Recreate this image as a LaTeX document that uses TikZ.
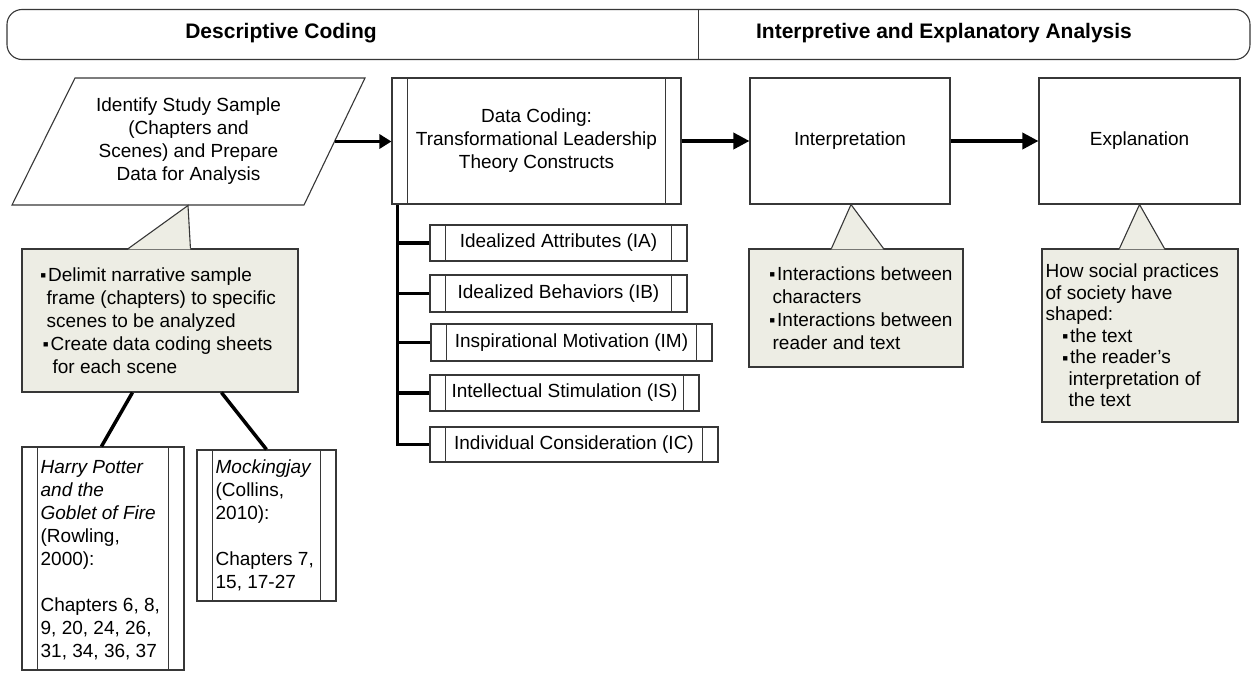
\documentclass[tikz,border=0pt]{standalone}
\usepackage{fontspec}
\setmainfont{Liberation Sans}
\usetikzlibrary{arrows.meta,calc}
\definecolor{bord}{RGB}{55,55,55}
\definecolor{cfill}{RGB}{237,237,228}
\newcommand{\bul}{\makebox[7.5pt][l]{\smash{\raisebox{2.3pt}{\fontsize{9}{9}\selectfont\char"25A0}}}}
\begin{document}
\begin{tikzpicture}[x=1pt,y=-1pt,
 txt/.style={font=\fontsize{19}{23}\selectfont, inner sep=0pt},
 box/.style={draw=bord, line width=1.1pt, inner sep=0pt, fill=white, txt},
 proc/.style={box, path picture={
   \draw[bord,line width=1.1pt] ([xshift=#1]path picture bounding box.north west) -- ([xshift=#1]path picture bounding box.south west);
   \draw[bord,line width=1.1pt] ([xshift=-#1]path picture bounding box.north east) -- ([xshift=-#1]path picture bounding box.south east);}},
 proc/.default=15.5pt,
 callbox/.style={draw=bord, line width=1.1pt, fill=cfill, inner sep=0pt},
 ptrline/.style={draw=bord, line width=1.1pt, line join=miter},
 conn/.style={line width=3.5pt, black},
 arr/.style={conn, -{Triangle[length=16pt,width=16pt]}},
 arrs/.style={conn, -{Triangle[length=12pt,width=14pt]}},
 hdrtxt/.style={font=\bfseries\fontsize{21}{25}\selectfont, inner sep=0pt, anchor=base},
]
\useasboundingbox (0,0) rectangle (1252,672);

% header
\node[box, rounded corners=15pt, minimum width=1243pt, minimum height=50pt] (hdr) at (628.5,34.5) {};
\draw[bord, line width=1.1pt] ([xshift=692pt]hdr.north west) -- ([xshift=692pt]hdr.south west);
\node[hdrtxt] (h1) at (281,38.5) {Descriptive Coding};
\node[hdrtxt] (h2) at (944,38.5) {Interpretive and Explanatory Analysis};

% parallelogram
\coordinate (pa) at (75,78);
\coordinate (pb) at (365,78);
\coordinate (pc) at (304,205);
\coordinate (pd) at (12,205);
\draw[bord, line width=1.1pt, fill=white] (pa) -- (pb) -- (pc) -- (pd) -- cycle;
\node[txt, align=center] (idt) at (188.5,141) {Identify Study Sample\\(Chapters and\\Scenes) and Prepare\\Data for Analysis};

% main boxes
\node[proc, minimum width=289pt, minimum height=126pt, align=center] (dc) at (536.5,141) {Data Coding:\\Transformational Leadership\\Theory Constructs};
\node[box, minimum width=200pt, minimum height=126pt] (interp) at (850,141) {Interpretation};
\node[box, minimum width=201pt, minimum height=126pt] (expl) at (1139.5,141) {Explanation};

\coordinate (pmid) at ($(pb)!0.5!(pc)$);
\draw[arrs] (pmid) -- (pmid -| dc.west);
\draw[arr] (dc.east) -- (interp.west);
\draw[arr] (interp.east) -- (expl.west);

% construct boxes
\node[proc, minimum width=257pt, minimum height=36pt] (ia) at (558.5,243) {Idealized Attributes (IA)};
\node[proc, minimum width=257pt, minimum height=37pt] (ib) at (558.5,293.5) {Idealized Behaviors (IB)};
\node[proc, minimum width=281pt, minimum height=37pt] (im) at (571.5,342.5) {Inspirational Motivation (IM)};
\node[proc, minimum width=269pt, minimum height=36pt] (is) at (564.5,393) {Intellectual Stimulation (IS)};
\node[proc, minimum width=288pt, minimum height=35pt] (ic) at (574,444.5) {Individual Consideration (IC)};

\coordinate (bt) at ([xshift=6pt]dc.south west);
\draw[conn] (bt) |- (ic.west);
\foreach \n in {ia,ib,im,is} { \draw[conn] (\n.west) -- (\n.west -| bt); }

% left callout
\node[callbox, minimum width=276pt, minimum height=143pt] (lc) at (160,320.5) {};
\coordinate (lcA) at (188,205.5);
\coordinate (lcL) at ([xshift=107pt]lc.north west);
\coordinate (lcR) at ([xshift=169pt]lc.north west);
\fill[cfill] ([yshift=-0.8pt]lcL) -- (lcA) -- ([yshift=-0.8pt]lcR) -- cycle;
\draw[ptrline] (lcL) -- (lcA) -- (lcR);
\node[txt, anchor=west, align=left] (lct) at ([xshift=19pt]lc.west) {\bul Delimit narrative sample\\\hspace*{6pt}frame (chapters) to specific\\\hspace*{6pt}scenes to be analyzed\\\hspace*{2.5pt}\bul Create data coding sheets\\\hspace*{12pt}for each scene};

% interpretation callout
\node[callbox, minimum width=214pt, minimum height=118pt] (icb) at (856,308) {};
\coordinate (icA) at ([xshift=1pt]interp.south);
\coordinate (icL) at ([xshift=83pt]icb.north west);
\coordinate (icR) at ([xshift=135pt]icb.north west);
\fill[cfill] ([yshift=-0.8pt]icL) -- (icA) -- ([yshift=-0.8pt]icR) -- cycle;
\draw[ptrline] (icL) -- (icA) -- (icR);
\node[txt, anchor=west, align=left] (ict) at ([xshift=21pt]icb.west) {\bul Interactions between\\\hspace*{3pt}characters\\\bul Interactions between\\\hspace*{3pt}reader and text};

% explanation callout
\node[callbox, minimum width=196pt, minimum height=173pt] (ecb) at (1140,335.5) {};
\coordinate (ecA) at (expl.south);
\coordinate (ecL) at ([xshift=78pt]ecb.north west);
\coordinate (ecR) at ([xshift=123pt]ecb.north west);
\fill[cfill] ([yshift=-0.8pt]ecL) -- (ecA) -- ([yshift=-0.8pt]ecR) -- cycle;
\draw[ptrline] (ecL) -- (ecA) -- (ecR);
\node[txt, anchor=west, align=left, font=\fontsize{19}{21.5}\selectfont] (ect) at ([xshift=4pt]ecb.west) {How social practices\\of society have\\shaped:\\\hspace*{17pt}\bul the text\\\hspace*{17pt}\bul the reader’s\\\hspace*{23pt}interpretation of\\\hspace*{23pt}the text};

% book boxes
\node[proc, minimum width=162pt, minimum height=223pt] (hp) at (103,558.5) {};
\node[txt, anchor=west, align=left] (hpt) at ([xshift=19pt,yshift=-2pt]hp.west) {\textit{Harry Potter}\\\textit{and the}\\\textit{Goblet of Fire}\\(Rowling,\\2000):\\[23pt]Chapters 6, 8,\\9, 20, 24, 26,\\31, 34, 36, 37};
\node[proc, minimum width=139pt, minimum height=151pt] (mj) at (266.5,525.5) {};
\node[txt, anchor=west, align=left] (mjt) at ([xshift=19pt]mj.west) {\textit{Mockingjay}\\(Collins,\\2010):\\[23pt]Chapters 7,\\15, 17-27};

\draw[conn] ([xshift=111pt]lc.south west) -- ([xshift=80pt]hp.north west);
\draw[conn] ([xshift=200pt]lc.south west) -- ([xshift=70pt]mj.north west);
\end{tikzpicture}
\end{document}
